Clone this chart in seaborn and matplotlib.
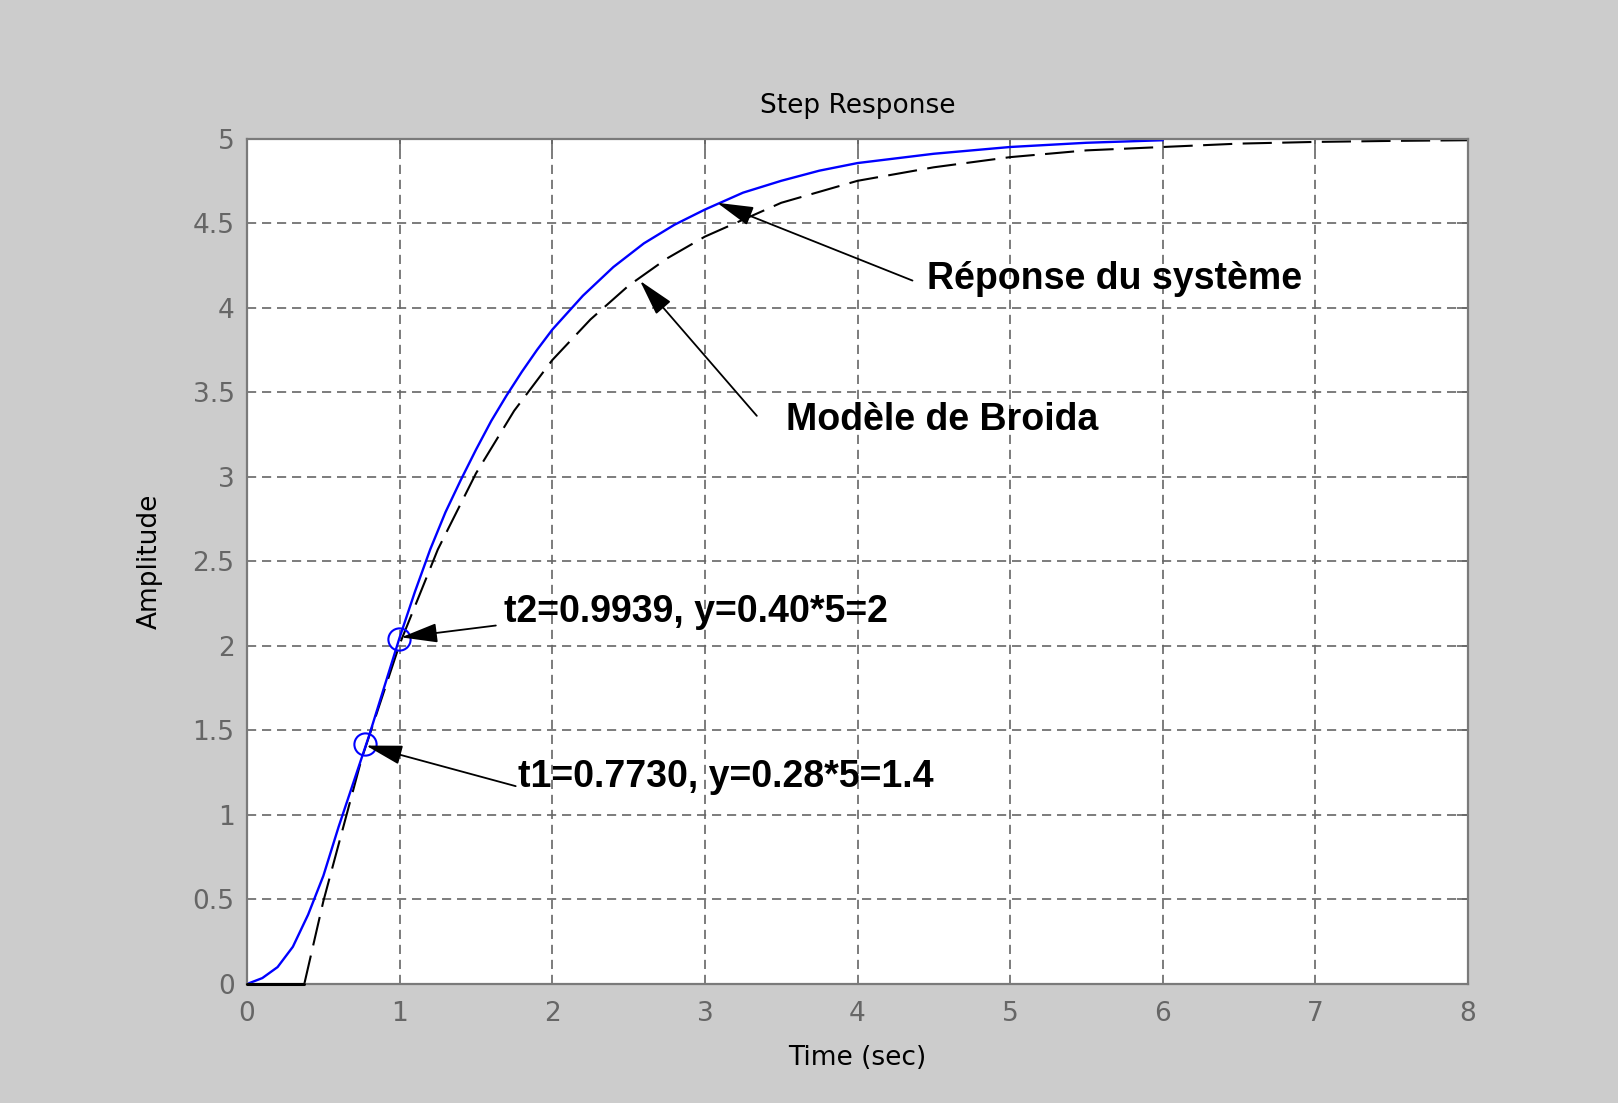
import numpy as np
import matplotlib
matplotlib.use("Agg")
import matplotlib.pyplot as plt
import seaborn as sns

sns.set_theme(style="white")
plt.rcParams.update({
    "font.family": ["DejaVu Sans"],
    "axes.unicode_minus": False,
})

# system step response (blue)
T_SYS = [0.0, 0.1, 0.2, 0.3, 0.4, 0.5, 0.6, 0.7, 0.8, 0.9, 1.0, 1.1, 1.2, 1.3,
         1.4, 1.5, 1.6, 1.7, 1.8, 1.9, 2.0, 2.2, 2.4, 2.6, 2.8, 3.0, 3.25,
         3.5, 3.75, 4.0, 4.5, 5.0, 5.5, 6.0]
Y_SYS = [0.0, 0.035, 0.10, 0.22, 0.41, 0.64, 0.93, 1.20, 1.47, 1.76, 2.05,
         2.32, 2.57, 2.79, 2.98, 3.16, 3.33, 3.48, 3.62, 3.75, 3.87, 4.07,
         4.24, 4.38, 4.49, 4.58, 4.68, 4.75, 4.81, 4.855, 4.91, 4.95, 4.975,
         4.99]

# Broida model (black dashed)
T_MOD = [0.0, 0.375, 0.5, 0.75, 1.0, 1.25, 1.5, 1.75, 2.0, 2.25, 2.5, 2.75,
         3.0, 3.5, 4.0, 4.5, 5.0, 5.5, 6.0, 6.5, 7.0, 7.5, 8.0]
Y_MOD = [0.0, 0.0, 0.49, 1.33, 2.01, 2.57, 3.02, 3.39, 3.69, 3.93, 4.13,
         4.29, 4.42, 4.62, 4.75, 4.83, 4.89, 4.93, 4.95, 4.97, 4.98, 4.986,
         4.99]

# picked points t1, t2
T_MARK = [0.773, 0.9939]
Y_MARK = [1.42, 2.04]

X_TICKS = [0, 1, 2, 3, 4, 5, 6, 7, 8]
Y_TICKS = [0, 0.5, 1, 1.5, 2, 2.5, 3, 3.5, 4, 4.5, 5]
Y_TICK_LABELS = ["0", "0.5", "1", "1.5", "2", "2.5", "3", "3.5", "4", "4.5", "5"]

NOTES = [
    # text, text pos, arrow tail, arrow head
    ("t2=0.9939, y=0.40*5=2", (1.684, 2.197), (1.63, 2.12), (1.01, 2.05)),
    ("t1=0.7730, y=0.28*5=1.4", (1.776, 1.226), (1.76, 1.17), (0.78, 1.41)),
    ("Réponse du système", (4.456, 4.168), (4.36, 4.16), (3.08, 4.62)),
    ("Modèle de Broida", (3.532, 3.333), (3.34, 3.36), (2.575, 4.158)),
]

GRID_GRAY = "#666666"
TEXT_GRAY = "#666666"

fig = plt.figure(figsize=(16.18, 11.03), dpi=100)
fig.patch.set_facecolor("#cccccc")
ax = fig.add_axes([0.1527, 0.1079, 0.7546, 0.7665])
ax.set_facecolor("white")

# dashed model curve, then the solid delay segment on top of the spine
sns.lineplot(x=T_MOD[1:], y=Y_MOD[1:], color="black", linewidth=1.5,
             sort=False, estimator=None, ax=ax)
ax.lines[-1].set_dashes([14, 5])
sns.lineplot(x=T_MOD[:2], y=Y_MOD[:2], color="black", linewidth=2.2,
             sort=False, estimator=None, ax=ax)
ax.lines[-1].set_clip_on(False)
ax.lines[-1].set_zorder(5)
sns.lineplot(x=T_SYS, y=Y_SYS, color="#0000ff", linewidth=1.7, sort=False,
             estimator=None, ax=ax)
ax.plot(T_MARK, Y_MARK, "o", mfc="none", mec="#0000ff", ms=16, mew=1.5,
        linestyle="none")

for label, txt_pos, tail, head in NOTES:
    ax.annotate("", xy=head, xytext=tail,
                arrowprops=dict(arrowstyle="-|>,head_length=0.9,head_width=0.24",
                                color="black", lw=1.3, mutation_scale=25,
                                shrinkA=0, shrinkB=0))
    ax.text(txt_pos[0], txt_pos[1], label, ha="left", va="center",
            fontsize=27, fontweight="bold",
            family=["Liberation Sans", "DejaVu Sans"], color="black")

ax.set_xlim(0, 8)
ax.set_ylim(0, 5)
ax.set_xticks(X_TICKS)
ax.set_yticks(Y_TICKS)
ax.set_yticklabels(Y_TICK_LABELS)
ax.tick_params(axis="both", which="major", direction="in", length=8,
               width=1.2, color=GRID_GRAY, labelcolor=TEXT_GRAY,
               labelsize=19, top=True, right=True)
ax.tick_params(axis="x", pad=12)
ax.tick_params(axis="y", pad=9)

ax.grid(True, color=GRID_GRAY, linestyle=(0, (5.5, 3.5)), linewidth=1.2)
ax.set_axisbelow(True)
for spine in ax.spines.values():
    spine.set_visible(True)
    spine.set_color("#7a7a7a")
    spine.set_linewidth(1.6)

ax.text(0.5, 1.038, "Step Response", transform=ax.transAxes, ha="center",
        va="center", fontsize=19, color="black")
ax.set_xlabel("Time (sec)", fontsize=19, color="black", va="center")
ax.xaxis.set_label_coords(0.5, -0.088)
ax.set_ylabel("Amplitude", fontsize=19, color="black", va="center")
ax.yaxis.set_label_coords(-0.0794, 0.5)

fig.savefig("out.png", dpi=100, facecolor=fig.get_facecolor())
plt.close(fig)
